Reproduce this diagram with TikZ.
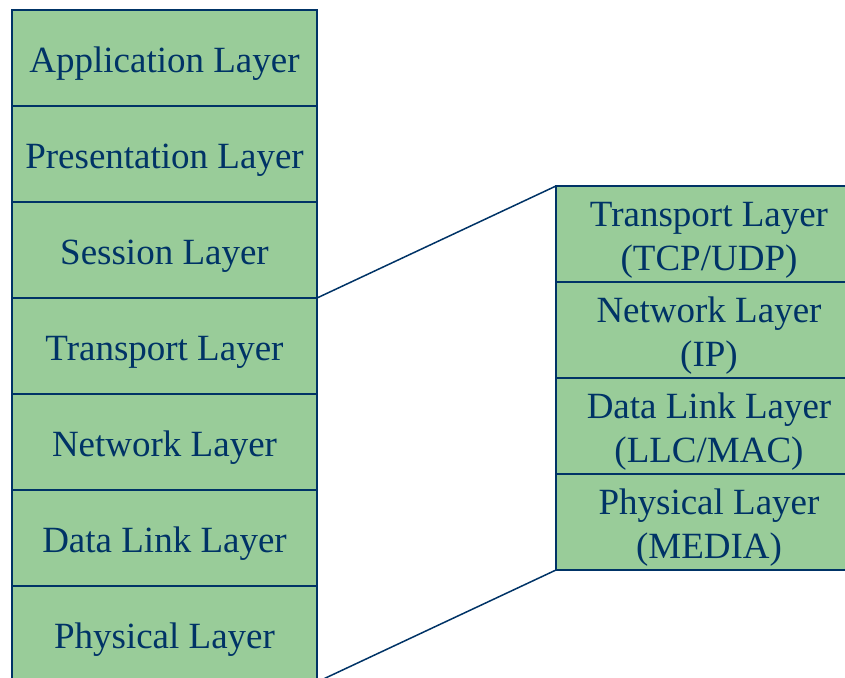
\documentclass[tikz,border=0pt]{standalone}
\usepackage{fontspec}
\setmainfont{Liberation Serif}
\usetikzlibrary{positioning}
\usepackage{xcolor}
\definecolor{layerfill}{RGB}{153,204,153}
\definecolor{layerline}{RGB}{0,51,102}

\begin{document}
\begin{tikzpicture}[x=1pt, y=-1pt]
  \tikzset{
    osilayer/.style={
      draw=layerline,
      line width=1.5pt,
      minimum width=305pt,
      minimum height=96pt,
      outer sep=0pt,
      anchor=north,
      fill=layerfill,
      text=layerline,
      text height=31pt,
      text depth=3pt,
      font=\fontsize{37}{44}\selectfont
    },
    tcplayer/.style={
      osilayer,
      minimum width=306pt,
      text height=76pt,
      text depth=4pt,
      align=center
    },
    zoomline/.style={
      draw=layerline,
      line width=1.5pt
    }
  }
  \useasboundingbox (0,0) rectangle (845,677);
  \clip (0,0) rectangle (845,677);

  % Draw the OSI stack
    \node[osilayer] at (164.5, 10) (osi7) {Application Layer};
    \node[osilayer, below=0pt of osi7] (osi6) {Presentation Layer};
    \node[osilayer, below=0pt of osi6] (osi5) {Session Layer};
    \node[osilayer, below=0pt of osi5] (osi4) {Transport Layer};
    \node[osilayer, below=0pt of osi4] (osi3) {Network Layer};
    \node[osilayer, below=0pt of osi3] (osi2) {Data Link Layer};
    \node[osilayer, below=0pt of osi2] (osi1) {Physical Layer};

  % Draw the TCP/IP stack
    \node[tcplayer] at (709, 186) (tcp4) {Transport Layer\\(TCP/UDP)};
    \node[tcplayer, below=0pt of tcp4] (tcp3) {Network Layer\\(IP)};
    \node[tcplayer, below=0pt of tcp3] (tcp2) {Data Link Layer\\(LLC/MAC)};
    \node[tcplayer, below=0pt of tcp2] (tcp1) {Physical Layer\\(MEDIA)};

  % Zoom lines
    \draw[zoomline] (osi4.north east) -- (tcp4.north west);
    \draw[zoomline] (osi1.south east) -- (tcp1.south west);

\end{tikzpicture}
\end{document}
